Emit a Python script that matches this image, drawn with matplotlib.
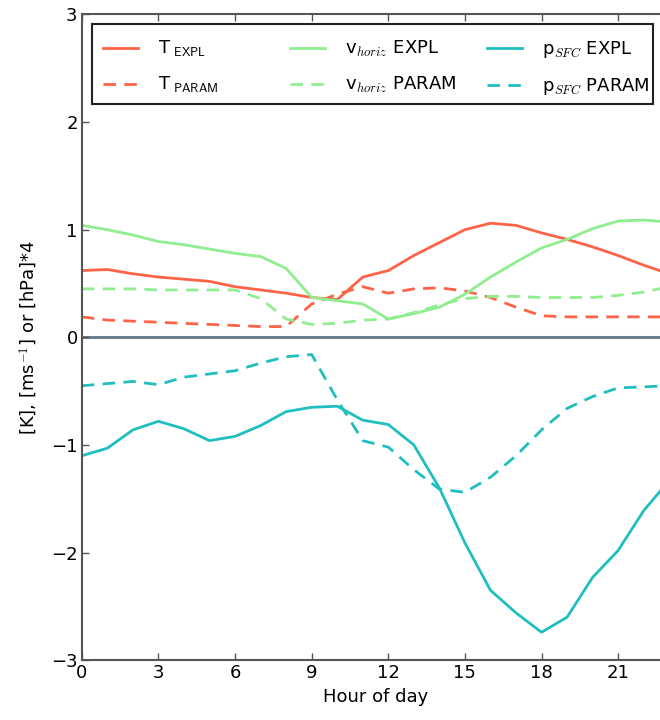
import numpy as np
import matplotlib
matplotlib.use("Agg")
import matplotlib.pyplot as plt
from matplotlib.legend import Legend
from matplotlib.patches import Rectangle

plt.rcParams['mathtext.fontset'] = 'cm'
plt.rcParams['font.family'] = 'DejaVu Sans'

hours = np.arange(0, 24)

# temperature anomaly [K]
t_expl = [0.62, 0.63, 0.59, 0.56, 0.54, 0.52, 0.47, 0.44, 0.41, 0.37, 0.35, 0.56,
          0.62, 0.76, 0.88, 1.00, 1.06, 1.04, 0.97, 0.91, 0.84, 0.76, 0.67, 0.59]
t_param = [0.19, 0.16, 0.15, 0.14, 0.13, 0.12, 0.11, 0.10, 0.10, 0.31, 0.40, 0.47,
           0.41, 0.45, 0.46, 0.43, 0.37, 0.28, 0.20, 0.19, 0.19, 0.19, 0.19, 0.19]

# horizontal wind [m/s]
v_expl = [1.04, 1.00, 0.95, 0.89, 0.86, 0.82, 0.78, 0.75, 0.64, 0.37, 0.34, 0.31,
          0.17, 0.22, 0.28, 0.40, 0.56, 0.70, 0.83, 0.91, 1.01, 1.08, 1.09, 1.07]
v_param = [0.45, 0.45, 0.45, 0.44, 0.44, 0.44, 0.44, 0.36, 0.17, 0.12, 0.13, 0.16,
           0.17, 0.23, 0.30, 0.36, 0.38, 0.38, 0.37, 0.37, 0.37, 0.39, 0.42, 0.47]

# surface pressure [hPa] * 4
p_expl = [-1.10, -1.03, -0.86, -0.78, -0.85, -0.96, -0.92, -0.82, -0.69, -0.65, -0.64, -0.77,
          -0.81, -1.00, -1.40, -1.91, -2.35, -2.56, -2.74, -2.60, -2.23, -1.98, -1.61, -1.33]
p_param = [-0.45, -0.43, -0.41, -0.44, -0.37, -0.34, -0.31, -0.24, -0.18, -0.16, -0.58, -0.96,
           -1.02, -1.23, -1.41, -1.44, -1.30, -1.10, -0.86, -0.66, -0.55, -0.47, -0.46, -0.45]

red = '#ff6347'
green = '#90ee90'
cyan = '#1fbfbf'
dash = (0, (4.5, 3))

fig = plt.figure(figsize=(6.6, 7.2), dpi=100)
ax = fig.add_axes([0.124, 0.083, 0.89, 0.897])

ax.axhline(0, color='#6f7f8f', lw=2.2, zorder=1)

l1, = ax.plot(hours, t_expl, color=red, lw=2, label=r'T$_{\ \mathsf{EXPL}}$')
l2, = ax.plot(hours, t_param, color=red, lw=2, ls=dash, label=r'T$_{\ \mathsf{PARAM}}$')
l3, = ax.plot(hours, v_expl, color=green, lw=2, label=r'v$_{horiz}$ EXPL')
l4, = ax.plot(hours, v_param, color=green, lw=2, ls=dash, label=r'v$_{horiz}$ PARAM')
l5, = ax.plot(hours, p_expl, color=cyan, lw=2, label=r'p$_{SFC}$ EXPL')
l6, = ax.plot(hours, p_param, color=cyan, lw=2, ls=dash, label=r'p$_{SFC}$ PARAM')

ax.set_xlim(0, 23)
ax.set_ylim(-3, 3)
ax.set_xticks(np.arange(0, 22, 3))
ax.set_yticks(np.arange(-3, 4, 1))
ax.tick_params(direction='in', length=5, width=1, color='#555555',
               labelsize=13, top=True, right=True, pad=3)
for s in ax.spines.values():
    s.set_color('#555555')
    s.set_linewidth(1.5)

ax.set_xlabel('Hour of day', fontsize=13, labelpad=4)
ax.set_ylabel(r'[K], [ms$^{-1}$] or [hPa]*4', fontsize=13, labelpad=8)

# one legend per column so each column sits where it should, plus a shared frame
for x0, pair in [(0.036, (l1, l2)), (0.354, (l3, l4)), (0.690, (l5, l6))]:
    leg = Legend(ax, list(pair), [h.get_label() for h in pair],
                 loc='upper left', bbox_to_anchor=(x0, 0.962), borderaxespad=0,
                 borderpad=0, frameon=False, fontsize=13, handlelength=1.95,
                 handletextpad=1.1, labelspacing=0.9)
    ax.add_artist(leg)

frame = Rectangle((92 / 660, 1 - 104 / 720), 561 / 660, 80 / 720,
                  transform=fig.transFigure, fill=False, edgecolor='#222222',
                  lw=1.5, clip_on=False, zorder=4)
ax.add_patch(frame)

fig.savefig('out.png', dpi=100)
